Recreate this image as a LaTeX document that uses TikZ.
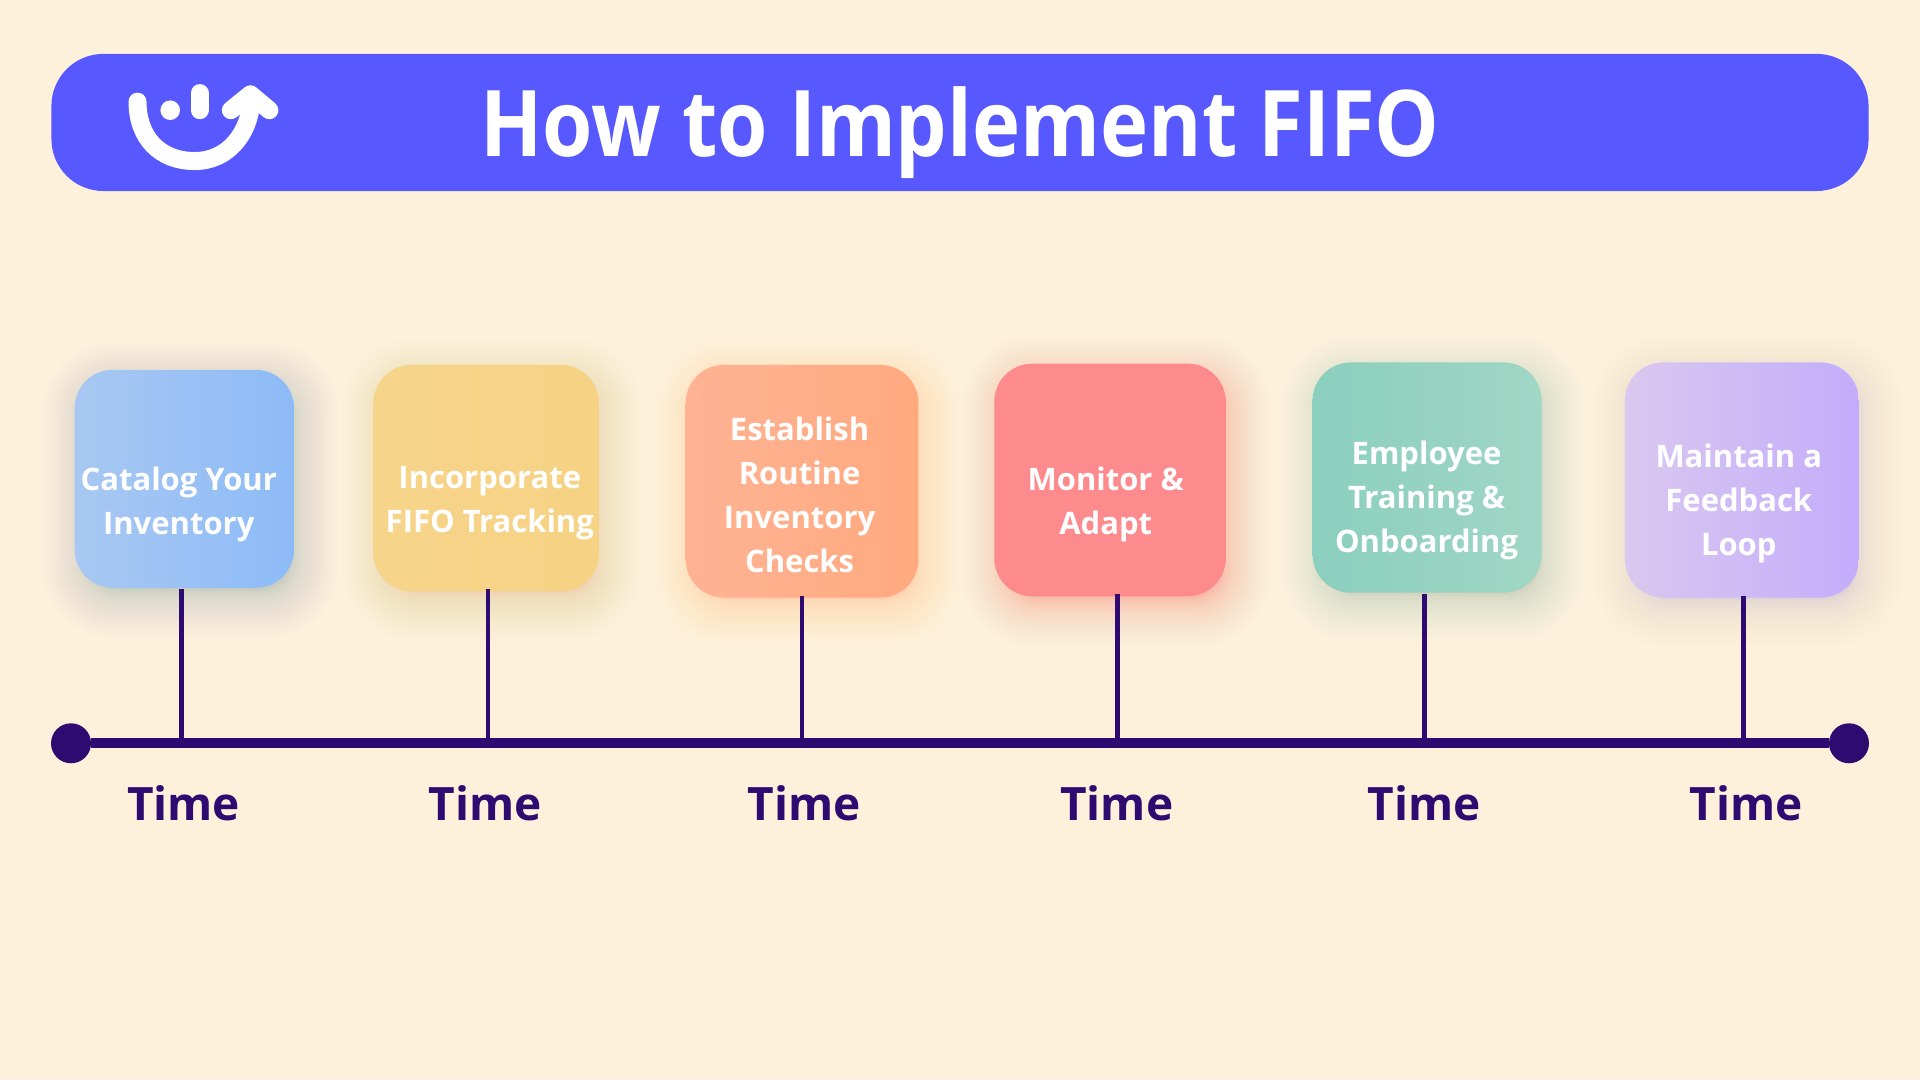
\documentclass[tikz,border=0pt]{standalone}
\usepackage{fontspec}
\setmainfont{Open Sans}
\newfontfamily\titlefont[FakeStretch=0.885]{Open Sans}
\usetikzlibrary{calc}
\definecolor{bg}{HTML}{FDF1DC}
\definecolor{hdr}{HTML}{5759FF}
\definecolor{ink}{HTML}{2F0A70}
\definecolor{bluea}{HTML}{A8C8F2}
\definecolor{blueb}{HTML}{8DBBF7}
\definecolor{blueg}{HTML}{8CA4C4}
\definecolor{yela}{HTML}{F6D48A}
\definecolor{yelb}{HTML}{F6D284}
\definecolor{yelg}{HTML}{F0C870}
\definecolor{orga}{HTML}{FFB394}
\definecolor{orgb}{HTML}{FFA97F}
\definecolor{orgg}{HTML}{FF9F70}
\definecolor{reda}{HTML}{FD8A8D}
\definecolor{redb}{HTML}{FD8A8D}
\definecolor{redg}{HTML}{F88078}
\definecolor{teala}{HTML}{8BCFBE}
\definecolor{tealb}{HTML}{A0D6C4}
\definecolor{tealg}{HTML}{A4D4A0}
\definecolor{pura}{HTML}{DAC8EF}
\definecolor{purb}{HTML}{C3ADFB}
\definecolor{purg}{HTML}{B4A0D4}
\newcommand{\softglow}[6]{%
  \foreach \g in {1,...,30}{
    \pgfmathsetmacro{\dd}{-8+42*(1-\g/30)*(1-\g/30)}
    \pgfmathsetmacro{\rr}{max(20,38+\dd)}
    \fill[#5,fill opacity=#6,rounded corners=\rr pt]
      ({#1-\dd+5},{#2-\dd+9}) rectangle ({#3+\dd+5},{#4+\dd+9});
  }}
\newcommand{\stepcard}[9]{%
  \softglow{#2}{#3}{#4}{#5}{#8}{#9}
  \node[cardbox,left color=#6,right color=#7,
    minimum width={(#4-#2)*1.2245pt},minimum height={(#5-#3)*1.2245pt}]
    (#1) at ({(#2+#4)/2},{(#3+#5)/2}) {};}
\tikzset{
  cardbox/.style={rounded corners=38pt,inner sep=0pt,draw=none},
  cardtext/.style={text=white,font=\fontsize{31}{44}\selectfont\bfseries,align=center,inner sep=0pt},
  timetext/.style={text=ink,font=\fontsize{46}{50}\selectfont\bfseries,inner sep=0pt},
  stem/.style={draw=ink,line width=4.8pt},
  axisline/.style={draw=ink,line width=10pt},
  enddot/.style={circle,fill=ink,minimum size=40pt,inner sep=0pt},
  logo/.style={draw=white,line width=18pt,line cap=round,line join=round},
}
\begin{document}
\begin{tikzpicture}[x=1.2245pt,y=-1.2245pt]
\useasboundingbox (0,0) rectangle (1568,882);
\fill[bg] (0,0) rectangle (1568,882);
% header
\node[fill=hdr,rounded corners=52pt,inner sep=0pt,minimum width={1484*1.2245pt},minimum height={112*1.2245pt}] (header) at (784,100) {};
\node[text=white,font=\fontsize{92}{94}\selectfont\titlefont\bfseries,inner sep=0pt] (title) at (784,108) {How to Implement FIFO};
% logo
\draw[logo] (112.3,83) .. controls (112.3,112) and (130,131.5) .. (159,131.5) .. controls (187,131.5) and (203,108) .. (205,85);
\draw[logo] (188.5,90) -- (204.5,77) -- (220,90);
\draw[logo] (163,76) -- (163,90);
\fill[white] (139,90) ellipse [x radius=8,y radius=8];
% cards
\stepcard{c1}{61}{302}{240}{480}{bluea}{blueb}{blueg}{0.016}
\stepcard{c2}{305}{298}{489}{483}{yela}{yelb}{yelg}{0.010}
\stepcard{c3}{560}{298}{750}{488}{orga}{orgb}{orgg}{0.012}
\stepcard{c4}{812}{297}{1001}{487}{reda}{redb}{redg}{0.014}
\stepcard{c5}{1072}{296}{1259}{484}{teala}{tealb}{tealg}{0.014}
\stepcard{c6}{1327}{296}{1518}{488}{pura}{purb}{purg}{0.012}
% card labels
\node[cardtext] (l1) at (146,412) {Catalog Your\\Inventory};
\node[cardtext] (l2) at (400,411) {Incorporate\\FIFO Tracking};
\node[cardtext] (l3) at (653,404) {Establish\\Routine\\Inventory\\Checks};
\node[cardtext] (l4) at (903,412) {Monitor \&\\Adapt};
\node[cardtext] (l5) at (1165,408.5) {Employee\\Training \&\\Onboarding};
\node[cardtext] (l6) at (1420,411.5) {Maintain a\\Feedback\\Loop};
% axis
\node[enddot] (start) at (58,607) {};
\node[enddot] (end) at (1510,607) {};
\draw[axisline] (start) -- (end);
\foreach \n/\x/\tx/\top in {c1/148/150/481,c2/398.5/396/481,c3/655/657/487,c4/912.5/912/485,c5/1163.5/1163/485,c6/1424/1426/487}{
  \coordinate (p\n) at (\x,607);
  \coordinate (q\n) at (\x,\top);
  \draw[stem] (p\n) -- (q\n);
  \node[timetext] (t\n) at (\tx,656) {Time};
}
\end{tikzpicture}
\end{document}
